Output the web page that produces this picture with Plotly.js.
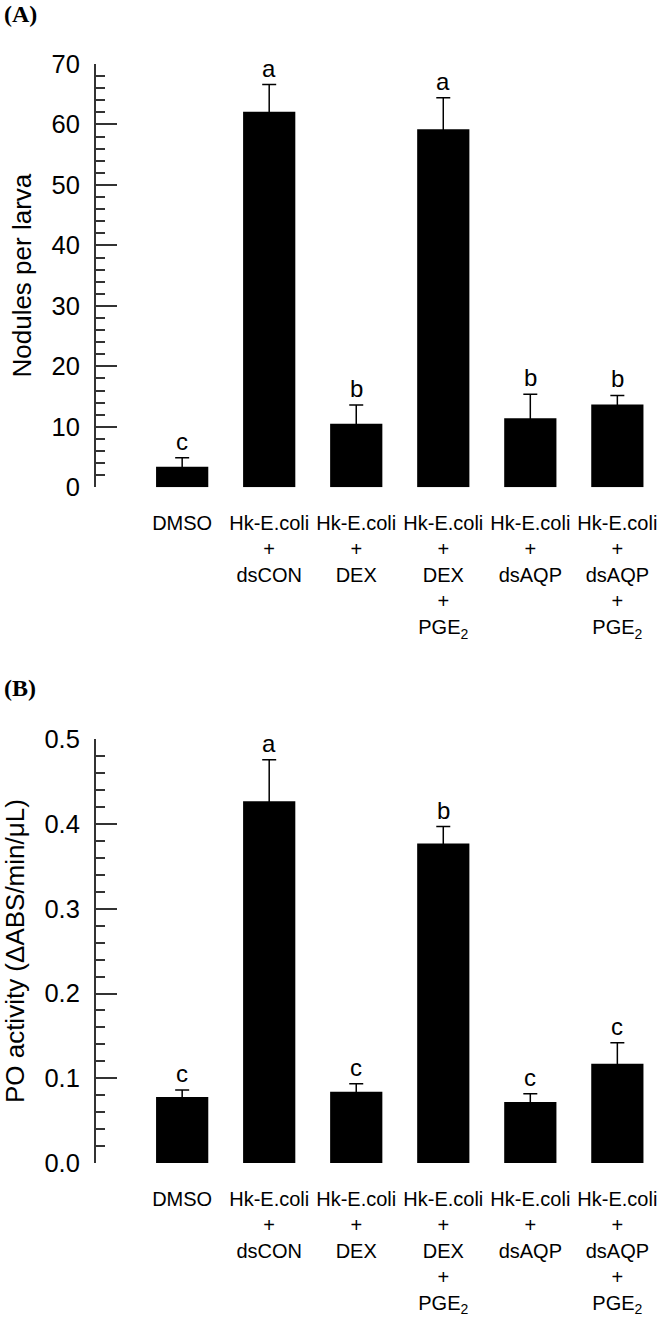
<!DOCTYPE html>
<html>
<head>
<meta charset="utf-8">
<script src="https://cdn.plot.ly/plotly-3.0.1.min.js"></script>
<style>html,body{margin:0;padding:0;background:#fff;}#chart{width:660px;height:1321px;}</style>
</head>
<body>
<div id="chart"></div>
<script>
// ---- data ----
const categories = ["DMSO", "Hk-E.coli + dsCON", "Hk-E.coli + DEX", "Hk-E.coli + DEX + PGE2", "Hk-E.coli + dsAQP", "Hk-E.coli + dsAQP + PGE2"];
const tickLabels = [
  "DMSO",
  "Hk-E.coli<br>+<br>dsCON",
  "Hk-E.coli<br>+<br>DEX",
  "Hk-E.coli<br>+<br>DEX<br>+<br>PGE<sub>2</sub>",
  "Hk-E.coli<br>+<br>dsAQP",
  "Hk-E.coli<br>+<br>dsAQP<br>+<br>PGE<sub>2</sub>"
];
const nodules = [3.4, 62.1, 10.5, 59.2, 11.4, 13.7];
const nodulesErr = [1.5, 4.5, 3.1, 5.2, 4.0, 1.5];
const nodulesLetters = ["c", "a", "b", "a", "b", "b"];
const poActivity = [0.078, 0.427, 0.084, 0.377, 0.072, 0.117];
const poErr = [0.008, 0.049, 0.0095, 0.020, 0.0098, 0.025];
const poLetters = ["c", "a", "c", "b", "c", "c"];

// ---- build ----
const idx = categories.map((_, i) => i);
const FONT = "Liberation Sans, Arial, sans-serif";

function barTrace(vals, errs, xa, ya) {
  return {
    type: "bar", x: idx, y: vals, xaxis: xa, yaxis: ya, width: 0.6,
    marker: {color: "#000", line: {width: 0}},
    error_y: {type: "data", array: errs, symmetric: true,
      color: "#000", thickness: 1.5, width: 7},
    hoverinfo: "none", showlegend: false
  };
}

const data = [
  barTrace(nodules, nodulesErr, "x", "y"),
  barTrace(poActivity, poErr, "x2", "y2")
];

const annotations = [];
function letters(vals, errs, labs, xr, yr) {
  labs.forEach((t, i) => annotations.push({
    x: i, y: vals[i] + errs[i], xref: xr, yref: yr, text: t, showarrow: false,
    yanchor: "bottom", yshift: 1, font: {family: FONT, size: 24, color: "#000"}
  }));
}
letters(nodules, nodulesErr, nodulesLetters, "x", "y");
letters(poActivity, poErr, poLetters, "x2", "y2");

const H = 1321;
annotations.push({x: 2/660, y: 1 - 14/H, xref: "paper", yref: "paper", text: "<b>(A)</b>",
  showarrow: false, xanchor: "left", yanchor: "middle", font: {family: "Liberation Serif, Times New Roman, serif", size: 24, color: "#000"}});
annotations.push({x: 2/660, y: 1 - 688/H, xref: "paper", yref: "paper", text: "<b>(B)</b>",
  showarrow: false, xanchor: "left", yanchor: "middle", font: {family: "Liberation Serif, Times New Roman, serif", size: 24, color: "#000"}});

const xRange = [-0.99, 5.49];
function xAxis(anchor) {
  return {domain: [96/660, 1], range: xRange, anchor: anchor, tickvals: idx, ticktext: tickLabels,
    ticks: "", showline: false, showgrid: false, zeroline: false, fixedrange: true,
    tickfont: {family: FONT, size: 20, color: "#000"}, tickangle: 0, ticklabelstandoff: 22, automargin: false};
}
function yAxis(anchor, domain, range, dtick, minorDtick, title, fmt) {
  return {domain: domain, range: range, anchor: anchor, dtick: dtick, tick0: 0, tickformat: fmt,
    ticks: "inside", ticklen: 21, tickwidth: 2, tickcolor: "#333",
    minor: {ticks: "inside", ticklen: 9, tickwidth: 2, tickcolor: "#333", dtick: minorDtick, showgrid: false},
    showline: true, linewidth: 2, linecolor: "#333", showgrid: false, zeroline: false,
    tickfont: {family: FONT, size: 25.5, color: "#000"}, ticklabelstandoff: 9,
    title: {text: title, font: {family: FONT, size: 26, color: "#000"}, standoff: 12},
    automargin: false};
}

const layout = {
  width: 660, height: H, margin: {l: 0, r: 0, t: 0, b: 0},
  paper_bgcolor: "#fff", plot_bgcolor: "#fff", bargap: 0.4, showlegend: false,
  xaxis: xAxis("y"),
  yaxis: yAxis("x", [(H - 487.3)/H, (H - 64)/H], [0, 70], 10, 2, "Nodules per larva", "d"),
  xaxis2: xAxis("y2"),
  yaxis2: yAxis("x2", [(H - 1163)/H, (H - 739.3)/H], [0, 0.5], 0.1, 0.02, "PO activity (ΔABS/min/μL)", ".1f"),
  annotations: annotations
};

Plotly.newPlot("chart", data, layout, {staticPlot: true, displayModeBar: false});
</script>
</body>
</html>
